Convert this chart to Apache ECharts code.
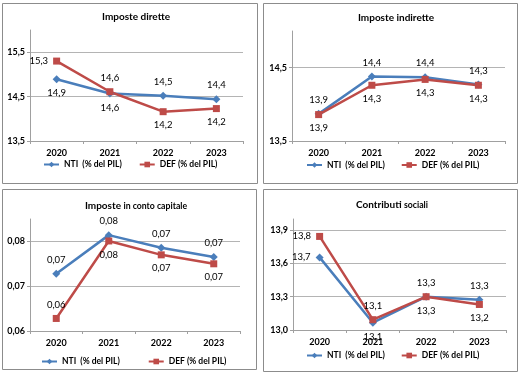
<!DOCTYPE html>
<html><head><meta charset="utf-8">
<script src="https://cdn.jsdelivr.net/npm/echarts@6/dist/echarts.min.js"></script>
<style>html,body{margin:0;padding:0;background:#fff}#c{width:520px;height:373px}</style>
</head><body><div id="c"></div>
<script>
const years = ['2020', '2021', '2022', '2023'];
const seriesNames = ['NTI  (% del PIL)', 'DEF (% del PIL)'];

const dirNTI = [14.89, 14.57, 14.52, 14.44];
const dirDEF = [15.30, 14.61, 14.16, 14.23];
const indNTI = [13.87, 14.38, 14.37, 14.27];
const indDEF = [13.86, 14.26, 14.34, 14.26];
const capNTI = [0.0678, 0.0764, 0.0736, 0.0715];
const capDEF = [0.0578, 0.0751, 0.0720, 0.0700];
const socNTI = [13.654, 13.066, 13.30, 13.273];
const socDEF = [13.843, 13.093, 13.30, 13.23];

const dirTicks = [13.5, 14.5, 15.5];
const indTicks = [13.5, 14.5];
const capTicks = [0.055, 0.065, 0.075];
const socTicks = [13.0, 13.3, 13.6, 13.9];

const FONT = 'Lato';
const BLUE = '#4a7ebb';
const RED = '#be4b48';

function fmt(v, d) {
  const f = Math.pow(10, d);
  return (Math.round(v * f + 1e-7) / f).toFixed(d).replace('.', ',');
}

const panels = [
  { title: [['Imposte dirette', 'b']], tx: 136, ty: 12,
    grid: { left: 30, top: 30, width: 213, height: 111 },
    min: 13.5, max: 16, ticks: dirTicks, dec: 1,
    nti: dirNTI, def: dirDEF,
    ntiPos: ['bottom', 'bottom', 'top', 'top'], defPos: ['left', 'top', 'bottom', 'bottom'],
    legX: 43, legY: 160, legGap: 17, box: [2, 3, 255, 180] },
  { title: [['Imposte indirette', 'b']], tx: 396, ty: 13,
    grid: { left: 292, top: 31, width: 213, height: 110 },
    min: 13.5, max: 15, ticks: indTicks, dec: 1,
    nti: indNTI, def: indDEF,
    ntiPos: ['top', 'top', 'top', 'top'], defPos: ['bottom', 'bottom', 'bottom', 'bottom'],
    legX: 306, legY: 160.5, legGap: 16, box: [263, 3, 254, 180] },
  { title: [['Imposte ', 'b'], ['in conto capitale', 's']], tx: 136, ty: 201,
    grid: { left: 30, top: 219, width: 210, height: 112 },
    min: 0.055, max: 0.08, ticks: capTicks, dec: 2,
    nti: capNTI, def: capDEF,
    ntiPos: ['top', 'top', 'top', 'top'], defPos: ['top', 'bottom', 'bottom', 'bottom'],
    legX: 41, legY: 357, legGap: 28, box: [2, 189, 254, 180] },
  { title: [['Contributi ', 'b'], ['sociali', 's']], tx: 392, ty: 200,
    grid: { left: 293, top: 219, width: 213, height: 111 },
    min: 13, max: 14, ticks: socTicks, dec: 1,
    nti: socNTI, def: socDEF,
    ntiPos: ['left', 'bottom', 'bottom', 'top'], defPos: ['left', 'top', 'top', 'bottom'],
    legX: 306, legY: 351, legGap: 16, box: [263, 189, 254, 182] }
];

const option = {
  backgroundColor: '#fff',
  animation: false,
  title: [], grid: [], xAxis: [], yAxis: [], series: [], legend: [], graphic: []
};

panels.forEach((p, i) => {
  option.graphic.push({
    type: 'rect', shape: { x: p.box[0] + 0.5, y: p.box[1] + 0.5, width: p.box[2], height: p.box[3] },
    style: { fill: 'none', stroke: '#8c8c8c', lineWidth: 1 }, silent: true, z: -1
  });
  option.title.push({
    text: p.title.map(t => '{' + t[1] + '|' + t[0] + '}').join(''),
    left: p.tx, top: p.ty, textAlign: 'center', padding: 0,
    textStyle: {
      rich: {
        b: { fontFamily: FONT, fontWeight: 'bold', fontSize: 10, color: '#000' },
        s: { fontFamily: FONT, fontWeight: 'bold', fontSize: 8.7, color: '#000' }
      }
    }
  });
  option.grid.push(Object.assign({ containLabel: false }, p.grid));
  option.xAxis.push({
    type: 'category', gridIndex: i, data: years, boundaryGap: true,
    axisLine: { lineStyle: { color: '#a0a0a0', width: 1 } },
    axisTick: { show: true, length: 3, lineStyle: { color: '#a0a0a0' } },
    axisLabel: { fontFamily: FONT, fontWeight: 'bold', fontSize: 9, color: '#000', margin: 8 },
    splitLine: { show: false }
  });
  option.yAxis.push({
    type: 'value', gridIndex: i, min: p.min, max: p.max,
    axisLine: { show: true, lineStyle: { color: '#a0a0a0', width: 1 } },
    axisTick: { show: true, length: 3, customValues: p.ticks, lineStyle: { color: '#a0a0a0' } },
    axisLabel: { customValues: p.ticks, fontFamily: FONT, fontWeight: 'bold', fontSize: 9, color: '#000', margin: 5,
      formatter: v => fmt(v, p.dec) },
    splitLine: { show: true, lineStyle: { color: '#b4b4b4', width: 1 } }
  });
  const mk = (name, vals, pos, color, symbol, size) => ({
    name, type: 'line', xAxisIndex: i, yAxisIndex: i,
    data: vals.map((v, k) => ({ value: v, label: { position: pos[k] } })),
    symbol, symbolSize: size,
    lineStyle: { color, width: 2.5 }, itemStyle: { color },
    label: { show: true, fontFamily: FONT, fontSize: 9.5, color: '#000', distance: 5,
      formatter: q => fmt(q.value, p.dec) }
  });
  option.series.push(mk(seriesNames[0], p.nti, p.ntiPos, BLUE, 'diamond', 8));
  option.series.push(mk(seriesNames[1], p.def, p.defPos, RED, 'rect', 7));
  option.legend.push({
    left: p.legX, top: p.legY, padding: 0, itemWidth: 15, itemHeight: 7, itemGap: p.legGap,
    data: seriesNames,
    textStyle: { fontFamily: FONT, fontWeight: 'bold', fontSize: 8.5, color: '#000' }
  });
});

const chart = echarts.init(document.getElementById('c'), null, { renderer: 'canvas' });
chart.setOption(option);
</script>
</body></html>
